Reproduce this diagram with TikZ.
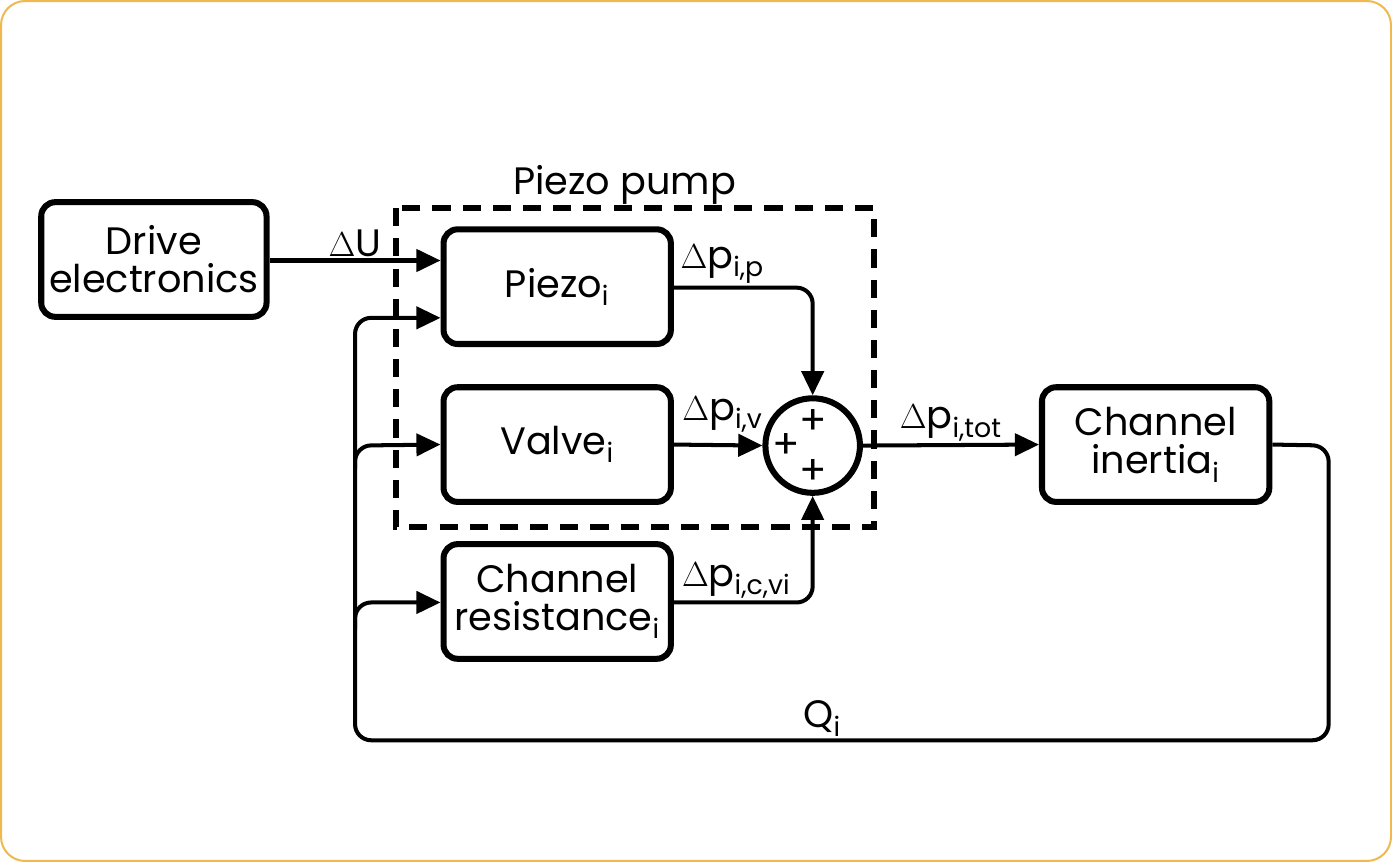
\documentclass[tikz,border=0pt]{standalone}
\usepackage{fontspec}
\setmainfont{Poppins}
\usetikzlibrary{arrows.meta, positioning}

\begin{document}
\begin{tikzpicture}[x=0.5pt, y=-0.5pt, >={Triangle[length=12pt, width=11pt]},
  block/.style={rectangle, rounded corners=7pt, draw, line width=3pt, align=center, minimum width=113pt, minimum height=57pt, font=\fontsize{19}{21}\selectfont},
  sig/.style={line width=2pt, rounded corners=8pt},
  lbl/.style={font=\fontsize{19}{21}\selectfont, inner sep=1pt},
  plus/.style={font=\fontsize{20}{20}\selectfont, inner sep=0pt}]

            \draw[draw={rgb,255:red,240;green,184;blue,80}, line width=1pt, rounded corners=12pt] (5,5) rectangle (1387,860);

            \node[block, minimum width=112pt] (drive) at (157,262) {Drive\\[-2pt]electronics};
            \node[block] (piezo) at (558,289) {Piezo\textsubscript{i}};
            \node[block] (valve) at (558,446) {Valve\textsubscript{i}};
            \node[block] (res) at (558,602) {Channel\\[-2pt]resistance\textsubscript{i}};
            \node[block] (inertia) at (1153,446) {Channel\\[-2pt]inertia\textsubscript{i}};
            \node[circle, draw, line width=3pt, minimum size=47pt] (sum) at (812,447) {};
            \node[plus] at (813,424) {+};
            \node[plus] at (786,447) {+};
            \node[plus] at (813,473) {+};

            \draw[line width=3pt, dash pattern=on 9pt off 6pt] (398,211) rectangle (873,528);
            \node[lbl] at (625,188) {Piezo pump};

            \coordinate (fb) at (357,447);

            \draw[sig, ->] (drive.east |- 0,263) -- node[lbl, above] {$\Delta$U} (piezo.west |- 0,263);
            \draw[sig, ->] (piezo.east |- 0,290) -- node[lbl, above, pos=0.35] {$\Delta$p\textsubscript{i,p}} (sum.center |- 0,290) -- (sum.north);
            \draw[sig, ->] (valve.east) -- (sum.west);
            \node[lbl, anchor=base west] (dpv) at (680,422) {$\Delta$p\textsubscript{i,v}};
            \draw[sig, ->] (res.east |- 0,603) -- node[lbl, above, pos=0.45] {$\Delta$p\textsubscript{i,c,vi}} (sum.center |- 0,603) -- (sum.south);
            \draw[sig, ->] (sum.east) -- node[lbl, above] {$\Delta$p\textsubscript{i,tot}} (inertia.west);
            \draw[sig, ->] (inertia.east) -- (1325,447) -- (1325,740) -- node[lbl, above, pos=0.52] {Q\textsubscript{i}} (357,740) -- (357,320) -- (piezo.west |- 0,320);
            \draw[sig, ->] (357,470) -- (fb) -- (valve.west);
            \draw[sig, ->] (357,630) -- (357,603) -- (res.west |- 0,603);

        \end{tikzpicture}
\end{document}
